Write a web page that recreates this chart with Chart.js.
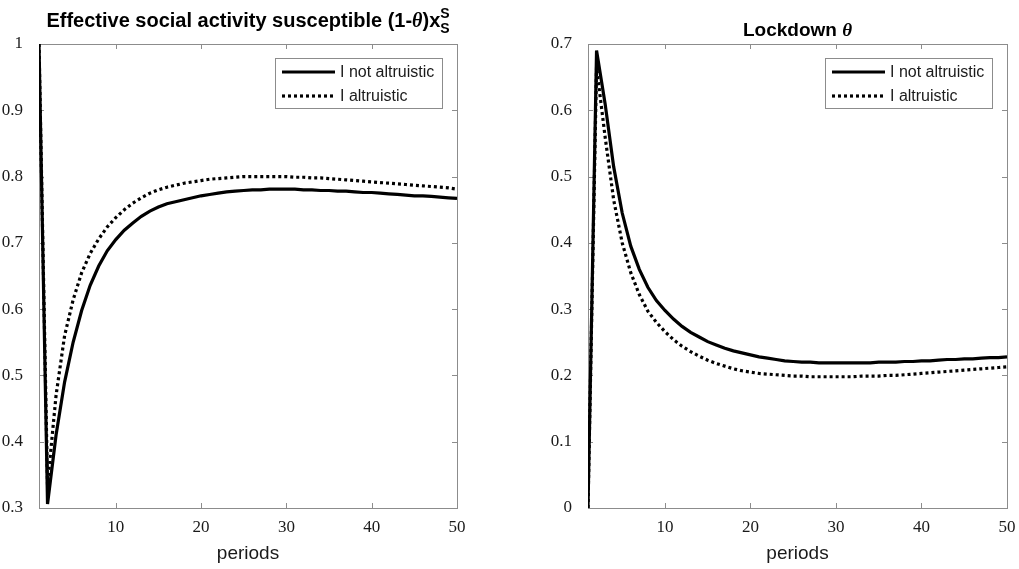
<!DOCTYPE html>
<html>
<head>
<meta charset="utf-8">
<script src="https://cdn.jsdelivr.net/npm/chart.js@4.4.1/dist/chart.umd.min.js"></script>
<style>
  html, body { margin: 0; padding: 0; background: #fff; }
  #wrap { position: relative; width: 1019px; height: 569px; }
  .pane { position: absolute; top: 0; height: 569px; }
  #leftPane { left: 0; width: 500px; }
  #rightPane { left: 509px; width: 510px; }
</style>
</head>
<body>
<div id="wrap">
  <div class="pane" id="leftPane"><canvas id="activityChart"></canvas></div>
  <div class="pane" id="rightPane"><canvas id="lockdownChart"></canvas></div>
</div>
<script>
const periods = [1, 2, 3, 4, 5, 6, 7, 8, 9, 10, 11, 12, 13, 14, 15, 16, 17, 18, 19, 20,
  21, 22, 23, 24, 25, 26, 27, 28, 29, 30, 31, 32, 33, 34, 35, 36, 37, 38, 39, 40,
  41, 42, 43, 44, 45, 46, 47, 48, 49, 50];

const seriesNames = ['I not altruistic', 'I altruistic'];

// effective social activity of susceptibles (1-theta) x_S^S
const activityNotAltruistic = [1.0, 0.306, 0.41, 0.49, 0.55, 0.598, 0.636, 0.665, 0.688, 0.705,
  0.719, 0.73, 0.74, 0.748, 0.754, 0.759, 0.762, 0.765, 0.768, 0.771,
  0.773, 0.775, 0.777, 0.778, 0.779, 0.78, 0.78, 0.781, 0.781, 0.781,
  0.781, 0.78, 0.78, 0.779, 0.779, 0.778, 0.778, 0.777, 0.776, 0.776,
  0.775, 0.774, 0.773, 0.772, 0.771, 0.771, 0.77, 0.769, 0.768, 0.767];
const activityAltruistic = [1.0, 0.335, 0.47, 0.56, 0.614, 0.655, 0.684, 0.706, 0.724, 0.738,
  0.75, 0.76, 0.768, 0.775, 0.78, 0.784, 0.787, 0.79, 0.792, 0.794,
  0.796, 0.797, 0.798, 0.799, 0.8, 0.8, 0.8, 0.8, 0.8, 0.8,
  0.799, 0.799, 0.798, 0.798, 0.797, 0.796, 0.795, 0.794, 0.793, 0.792,
  0.791, 0.79, 0.789, 0.788, 0.787, 0.786, 0.785, 0.784, 0.783, 0.781];

// lockdown theta
const lockdownNotAltruistic = [0, 0.69, 0.61, 0.515, 0.445, 0.395, 0.36, 0.333, 0.313, 0.298,
  0.285, 0.274, 0.265, 0.258, 0.251, 0.246, 0.241, 0.237, 0.234, 0.231,
  0.228, 0.226, 0.224, 0.222, 0.221, 0.22, 0.22, 0.219, 0.219, 0.219,
  0.219, 0.219, 0.219, 0.219, 0.22, 0.22, 0.22, 0.221, 0.221, 0.222,
  0.222, 0.223, 0.224, 0.224, 0.225, 0.225, 0.226, 0.227, 0.227, 0.228];
const lockdownAltruistic = [0, 0.665, 0.56, 0.465, 0.4, 0.355, 0.322, 0.297, 0.28, 0.266,
  0.254, 0.244, 0.236, 0.229, 0.223, 0.218, 0.214, 0.21, 0.207, 0.205,
  0.203, 0.202, 0.201, 0.2, 0.199, 0.199, 0.198, 0.198, 0.198, 0.198,
  0.198, 0.198, 0.199, 0.199, 0.199, 0.2, 0.2, 0.201, 0.202, 0.203,
  0.204, 0.205, 0.206, 0.207, 0.208, 0.209, 0.21, 0.211, 0.212, 0.213];

const xTicks = [10, 20, 30, 40, 50];

const SANS = '"Liberation Sans", Arial, Helvetica, sans-serif';
const SERIF = '"Liberation Serif", "Times New Roman", serif';
const AXIS_GREY = '#8c8c8c';
const TEXT = '#1a1a1a';

// box round the plot with inward ticks on all four sides
const framePlugin = {
  id: 'frame',
  beforeDatasetsDraw(chart) {
    const { ctx, chartArea: a, scales: { x, y } } = chart;
    ctx.save();
    ctx.strokeStyle = AXIS_GREY;
    ctx.lineWidth = 1;
    ctx.strokeRect(a.left + 0.5, a.top + 0.5, a.right - a.left, a.bottom - a.top);
    ctx.beginPath();
    x.ticks.forEach(t => {
      const px = Math.round(x.getPixelForValue(t.value)) + 0.5;
      ctx.moveTo(px, a.bottom); ctx.lineTo(px, a.bottom - 5);
      ctx.moveTo(px, a.top); ctx.lineTo(px, a.top + 5);
    });
    y.ticks.forEach(t => {
      const py = Math.round(y.getPixelForValue(t.value)) + 0.5;
      ctx.moveTo(a.left, py); ctx.lineTo(a.left + 5, py);
      ctx.moveTo(a.right, py); ctx.lineTo(a.right - 5, py);
    });
    ctx.stroke();
    ctx.restore();
  }
};

// boxed legend in the upper right corner
const legendBoxPlugin = {
  id: 'legendBox',
  afterDraw(chart) {
    const { ctx, chartArea: a } = chart;
    const w = 167, h = 50;
    const left = a.right - 15 - w, top = a.top + 14;
    ctx.save();
    ctx.fillStyle = '#fff';
    ctx.fillRect(left, top, w, h);
    ctx.strokeStyle = AXIS_GREY;
    ctx.lineWidth = 1;
    ctx.strokeRect(left + 0.5, top + 0.5, w, h);
    ctx.font = '16px ' + SANS;
    ctx.textBaseline = 'middle';
    ctx.fillStyle = TEXT;
    chart.data.datasets.forEach((ds, i) => {
      const cy = top + 14 + i * 24;
      ctx.beginPath();
      ctx.strokeStyle = '#000';
      ctx.lineWidth = ds.borderWidth;
      ctx.setLineDash(ds.borderDash || []);
      ctx.moveTo(left + 7, cy);
      ctx.lineTo(left + 60, cy);
      ctx.stroke();
      ctx.setLineDash([]);
      ctx.fillText(ds.label, left + 65, cy + 1);
    });
    ctx.restore();
  }
};

// title made of pieces so theta and the sub/superscripts can use their own fonts
const mixedTitlePlugin = {
  id: 'mixedTitle',
  afterDraw(chart, args, opts) {
    const { ctx, chartArea: a } = chart;
    ctx.save();
    ctx.fillStyle = '#000';
    ctx.textBaseline = 'alphabetic';
    const widthOf = p => {
      ctx.font = p.font;
      return Math.max(...p.text.split('|').map(s => ctx.measureText(s).width));
    };
    const total = opts.parts.reduce((s, p) => s + widthOf(p), 0);
    let x = (a.left + a.right) / 2 - total / 2;
    opts.parts.forEach(p => {
      const w = widthOf(p);
      ctx.font = p.font;
      if (p.stack) {
        const [sup, sub] = p.text.split('|');
        ctx.fillText(sup, x, opts.baseline - 9);
        ctx.fillText(sub, x, opts.baseline + 6);
      } else {
        ctx.fillText(p.text, x, opts.baseline);
      }
      x += w;
    });
    ctx.restore();
  }
};

function makeChart(canvasId, notAltruistic, altruistic, yMin, yMax, yWidth, rightPad, title) {
  const ctx = document.getElementById(canvasId).getContext('2d');
  return new Chart(ctx, {
    type: 'line',
    data: {
      datasets: [{
        label: seriesNames[0],
        data: periods.map((p, i) => ({ x: p, y: notAltruistic[i] })),
        borderColor: '#000',
        borderWidth: 3.2,
        pointRadius: 0,
        tension: 0
      }, {
        label: seriesNames[1],
        data: periods.map((p, i) => ({ x: p, y: altruistic[i] })),
        borderColor: '#000',
        borderWidth: 3.2,
        borderDash: [3, 3],
        borderCapStyle: 'butt',
        pointRadius: 0,
        tension: 0
      }]
    },
    options: {
      responsive: true,
      maintainAspectRatio: false,
      animation: false,
      layout: { padding: { top: 44, right: rightPad, left: 0, bottom: 0 } },
      plugins: {
        legend: { display: false },
        tooltip: { enabled: false },
        mixedTitle: title
      },
      scales: {
        x: {
          type: 'linear',
          min: 1,
          max: 50,
          afterBuildTicks: s => { s.ticks = xTicks.map(v => ({ value: v })); },
          afterFit: s => { s.height = 61; },
          grid: { display: false },
          border: { display: false },
          ticks: { color: TEXT, font: { family: SERIF, size: 17 }, padding: 1, maxRotation: 0, autoSkip: false },
          title: { display: true, text: 'periods', color: TEXT, font: { family: SANS, size: 19 }, padding: { top: 0, bottom: 4 } }
        },
        y: {
          min: yMin,
          max: yMax,
          afterFit: s => { s.width = yWidth; },
          grid: { display: false },
          border: { display: false },
          ticks: {
            stepSize: 0.1,
            color: TEXT,
            font: { family: SERIF, size: 17 },
            padding: 8,
            callback: v => String(Math.round(v * 10) / 10)
          }
        }
      }
    },
    plugins: [framePlugin, legendBoxPlugin, mixedTitlePlugin]
  });
}

const boldTheta = size => 'italic bold ' + size + 'px ' + SERIF;

makeChart('activityChart', activityNotAltruistic, activityAltruistic, 0.3, 1, 39, 43, {
  baseline: 27,
  parts: [
    { text: 'Effective social activity susceptible (1-', font: 'bold 20px ' + SANS },
    { text: 'θ', font: boldTheta(20) },
    { text: ')x', font: 'bold 20px ' + SANS },
    { text: 'S|S', font: 'bold 14px ' + SANS, stack: true }
  ]
});

makeChart('lockdownChart', lockdownNotAltruistic, lockdownAltruistic, 0, 0.7, 79, 12, {
  baseline: 36,
  parts: [
    { text: 'Lockdown ', font: 'bold 19px ' + SANS },
    { text: 'θ', font: boldTheta(19) }
  ]
});
</script>
</body>
</html>
